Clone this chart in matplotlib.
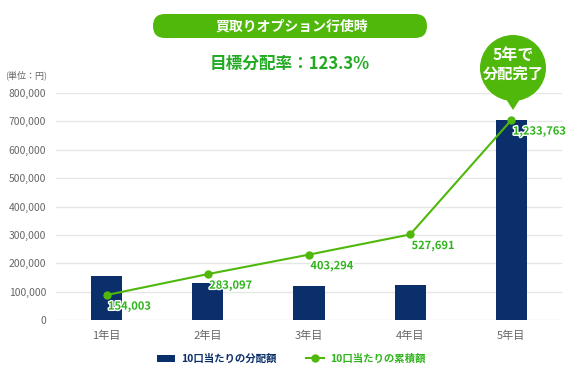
import matplotlib
matplotlib.use("Agg")
import matplotlib.pyplot as plt
import matplotlib.patheffects as pe
from matplotlib.patches import FancyBboxPatch, Circle, Polygon, Patch
from matplotlib.lines import Line2D

plt.rcParams['font.family'] = ['Noto Sans CJK JP', 'DejaVu Sans']

years = ['1年目', '2年目', '3年目', '4年目', '5年目']
payout = [154003, 129094, 120197, 124397, 706072]
cumulative = [154003, 283097, 403294, 527691, 1233763]
cum_labels = ['154,003', '283,097', '403,294', '527,691', '1,233,763']
yticks = [0, 100000, 200000, 300000, 400000, 500000, 600000, 700000, 800000]

navy = '#0b2f6b'
green = '#50b80a'
label_green = '#2fb51c'
grey = '#666666'

fig = plt.figure(figsize=(5.75, 3.74), dpi=100)
ax = fig.add_axes([56/575, 1-320/374, (562-56)/575, (320-93)/374])
x = range(len(years))
ax.bar(x, payout, width=0.31, color=navy, zorder=2)
ax.set_xlim(-0.5, len(years)-0.5)
ax.set_ylim(0, 800000)
ax.set_yticks(yticks)
ax.set_yticklabels([f'{v:,}' for v in yticks], fontsize=7.5, color=grey)
ax.set_xticks(list(x))
ax.set_xticklabels(years, fontsize=8, color=grey)
ax.tick_params(length=0, pad=7)
ax.tick_params(axis='x', pad=8)
ax.grid(axis='y', color='#e6e6e6', lw=1, zorder=0)
for s in ax.spines.values():
    s.set_visible(False)

# cumulative line on its own (hidden) scale
ax2 = ax.twinx()
ax2.set_ylim(0, 1400000)
ax2.axis('off')
ax2.plot(x, cumulative, color=green, lw=1.5, marker='o', ms=5, zorder=3)
for xi, v, t in zip(x, cumulative, cum_labels):
    ax2.annotate(t, (xi, v), xytext=(1, -8), textcoords='offset points',
                 ha='left', va='center', fontsize=8, fontweight='bold', color=label_green,
                 path_effects=[pe.withStroke(linewidth=2, foreground='white')])

# overlay in pixel coordinates for title pill and callout bubble
ov = fig.add_axes([0, 0, 1, 1], zorder=5)
ov.set_xlim(0, 575)
ov.set_ylim(374, 0)
ov.axis('off')
ov.patch.set_alpha(0)
ov.add_patch(FancyBboxPatch((153, 14), 274, 24, boxstyle='round,pad=0,rounding_size=12',
                            fc=green, ec='none'))
ov.text(292, 26.5, '買取りオプション行使時', ha='center', va='center', color='white',
        fontsize=10, fontweight='bold')
ov.text(290, 64, '目標分配率：123.3%', ha='center', va='center', color='#22aa22',
        fontsize=12, fontweight='bold')
ov.text(5, 75, '(単位：円)', ha='left', va='center', color=grey, fontsize=6.5)

ov.add_patch(Circle((513, 68), 33, fc=green, ec='none'))
ov.add_patch(Polygon([(504, 96), (522, 96), (513, 110)], closed=True, fc=green, ec='none'))
ov.text(513, 55, '5年で', ha='center', va='center', color='white', fontsize=11.5, fontweight='bold')
ov.text(513, 74, '分配完了', ha='center', va='center', color='white', fontsize=11, fontweight='bold')

handles = [Patch(fc=navy, ec='none'),
           Line2D([0], [0], color=green, lw=1.5, marker='o', ms=5)]
leg = fig.legend(handles, ['10口当たりの分配額', '10口当たりの累積額'], loc='center',
                 bbox_to_anchor=(291/575, 1-359/374), ncol=2, frameon=False,
                 prop={'size': 7.5, 'weight': 'bold'}, handlelength=1.75, handleheight=0.7,
                 handletextpad=0.6, columnspacing=2.8)
leg.get_texts()[0].set_color(navy)
leg.get_texts()[1].set_color(label_green)

fig.savefig('out.png', dpi=100)
